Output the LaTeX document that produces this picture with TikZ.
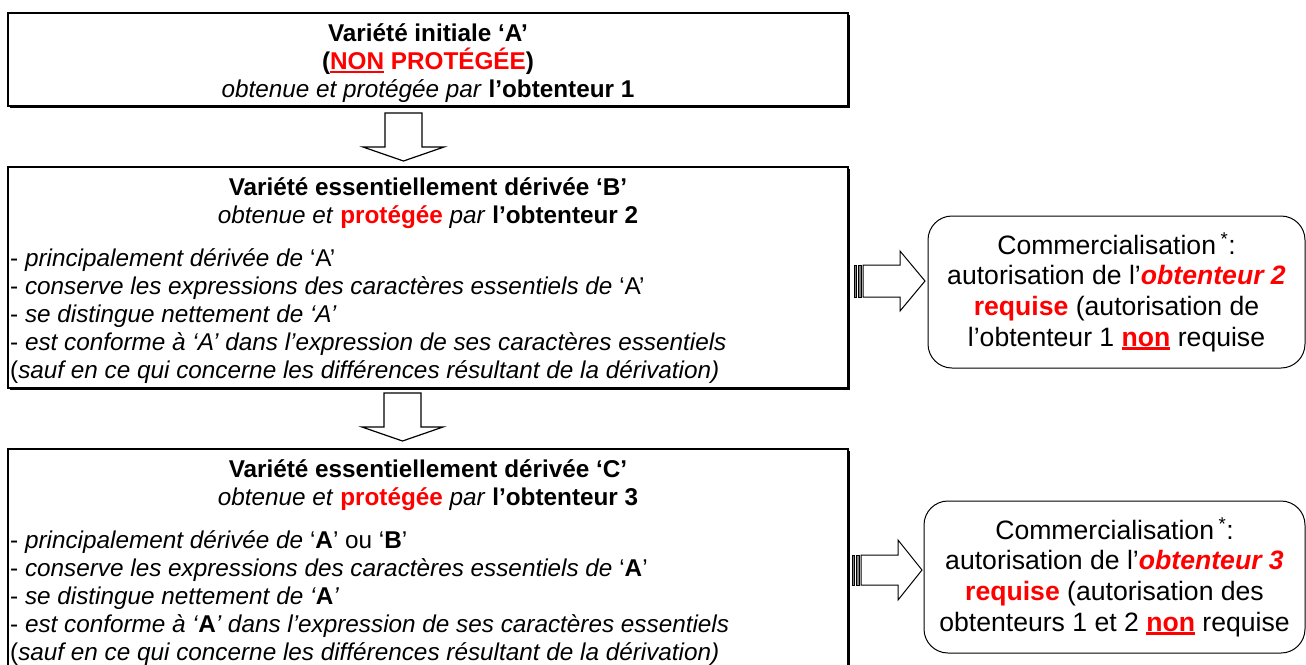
\documentclass[tikz,border=0pt]{standalone}
\usepackage{fontspec}
\setmainfont{Liberation Sans}
\usetikzlibrary{shadows}
\newcommand\myul[2][2pt]{\setbox0\hbox{#2}\rlap{\rule[-3.5pt]{\wd0}{#1}}\box0\relax}
\begin{document}
\begin{tikzpicture}[x=1pt,y=-1pt,
  lbox/.style={draw, line width=1.3pt, fill=white, inner sep=0,
    drop shadow={shadow xshift=1.6pt, shadow yshift=-1.6pt, fill=black, opacity=1}},
  txt/.style={inner sep=0, anchor=base, font=\fontsize{24.3}{28}\selectfont},
  btxt/.style={txt, anchor=base west},
  rbox/.style={draw, line width=1pt, rounded corners=24pt, align=center, inner sep=0,
    font=\fontsize{26.6}{30.6}\selectfont},
  barrow/.style={draw, line width=1.2pt, fill=white, line join=miter},
  stripe/.style={draw, line width=0.7pt, fill=gray}]
\useasboundingbox (0,0) rectangle (1306,664);
\clip (0,0) rectangle (1306,664);
\fill[white] (0,0) rectangle (1306,664);

% boxes
\node[lbox, minimum width=840pt, minimum height=93pt] (boxA) at (428,59.5) {};
\node[lbox, minimum width=840pt, minimum height=221pt] (boxB) at (428,277.5) {};
\node[lbox, minimum width=840pt, minimum height=221pt] (boxC) at (428,559.5) {};

% box A text
\node[txt] (a1) at (428,41) {\textbf{Variété initiale ‘A’}};
\node[txt] (a2) at (428,69) {\textbf{(\textcolor{red}{\myul{NON} PROTÉGÉE})}};
\node[txt] (a3) at (428,97) {\textit{obtenue et protégée par} \textbf{l’obtenteur 1}};

% box B text
\node[txt] (b1) at (428,195) {\textbf{Variété essentiellement dérivée ‘B’}};
\node[txt] (b2) at (428,223) {\textit{obtenue et} \textcolor{red}{\textbf{protégée}} \textit{par} \textbf{l’obtenteur 2}};
\node[btxt] (b3) at (10,266) {- \textit{principalement dérivée de} ‘A’};
\node[btxt] (b4) at (10,294) {- \textit{conserve les expressions des caractères essentiels de} ‘A’};
\node[btxt] (b5) at (10,322) {- \textit{se distingue nettement de ‘A’}};
\node[btxt] (b6) at (10,350) {- \textit{est conforme à ‘A’ dans l’expression de ses caractères essentiels}};
\node[btxt] (b7) at (10,378) {(\textit{sauf en ce qui concerne les différences résultant de la dérivation)}};

% box C text
\node[txt] (c1) at (428,477) {\textbf{Variété essentiellement dérivée ‘C’}};
\node[txt] (c2) at (428,505) {\textit{obtenue et} \textcolor{red}{\textbf{protégée}} \textit{par} \textbf{l’obtenteur 3}};
\node[btxt] (c3) at (10,548) {- \textit{principalement dérivée de} ‘\textbf{A}’ ou ‘\textbf{B}’};
\node[btxt] (c4) at (10,576) {- \textit{conserve les expressions des caractères essentiels de} ‘\textbf{A}’};
\node[btxt] (c5) at (10,604) {- \textit{se distingue nettement de ‘}\textbf{A}\textit{’}};
\node[btxt] (c6) at (10,632) {- \textit{est conforme à ‘}\textbf{A}\textit{’ dans l’expression de ses caractères essentiels}};
\node[btxt] (c7) at (10,660) {(\textit{sauf en ce qui concerne les différences résultant de la dérivation)}};

% down block arrows
\draw[barrow] (385,113) -- (422,113) -- (422,147) -- (444,147) -- (403.5,161)
  -- (363,147) -- (385,147) -- cycle;
\draw[barrow] (384,393) -- (421,393) -- (421,427) -- (443,427) -- (402.5,441)
  -- (362,427) -- (384,427) -- cycle;

% right boxes
\node[rbox, minimum width=377pt, minimum height=152pt] (r1) at (1116.5,292)
  {Commercialisation\,\textsuperscript{*}:\\
   autorisation de l’\textcolor{red}{\textbf{\textit{obtenteur 2}}}\\
   \textcolor{red}{\textbf{requise}} (autorisation de\\
   l’obtenteur 1 \textcolor{red}{\textbf{\myul[2.4pt]{non}}} requise};
\node[rbox, minimum width=381pt, minimum height=152pt] (r2) at (1114.5,577)
  {Commercialisation\,\textsuperscript{*}:\\
   autorisation de l’\textcolor{red}{\textbf{\textit{obtenteur 3}}}\\
   \textcolor{red}{\textbf{requise}} (autorisation des\\
   obtenteurs 1 et 2 \textcolor{red}{\textbf{\myul[2.4pt]{non}}} requise};

% striped right block arrows
\draw[stripe] (854,265) rectangle (856,297);
\draw[stripe] (858,265) rectangle (861,297);
\draw[barrow, line width=1pt] (863,265) -- (900,265) -- (900,251) -- (925,281)
  -- (900,311) -- (900,297) -- (863,297) -- cycle;
\draw[stripe] (852,555) rectangle (854,585);
\draw[stripe] (856,555) rectangle (859,585);
\draw[barrow, line width=1pt] (861,555) -- (898,555) -- (898,540) -- (922,570)
  -- (898,600) -- (898,585) -- (861,585) -- cycle;
\end{tikzpicture}
\end{document}
